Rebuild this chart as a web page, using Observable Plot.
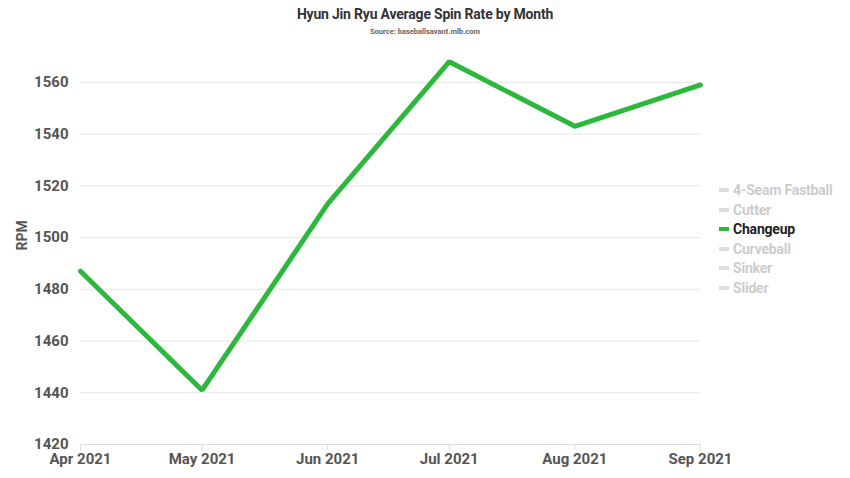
<!DOCTYPE html>
<html><head><meta charset="utf-8">
<script src="https://cdn.jsdelivr.net/npm/d3@7"></script>
<script src="https://cdn.jsdelivr.net/npm/@observablehq/plot@0.6"></script>
<style>
body{margin:0;background:#fff;font-family:Roboto,"Liberation Sans",sans-serif;}
#wrap{position:relative;width:850px;height:478px;}
#title{position:absolute;top:6px;left:0;width:850px;text-align:center;font-weight:700;font-size:14px;color:#333;letter-spacing:-0.2px;}
#sub{position:absolute;top:27px;left:0;width:850px;text-align:center;font-weight:700;font-size:7.5px;color:#666;}
#chart{position:absolute;top:40px;left:0;}
#legend{position:absolute;left:719px;top:181px;font-weight:700;font-size:14px;}
.item{height:19.5px;line-height:19.5px;color:#ccc;white-space:nowrap;letter-spacing:-0.2px;}
.sw{display:inline-block;width:10px;height:4px;background:#ddd;vertical-align:middle;margin-right:4px;margin-top:-2px;}
</style></head><body>
<div id="wrap">
<div id="title">Hyun Jin Ryu Average Spin Rate by Month</div>
<div id="sub">Source: baseballsavant.mlb.com</div>
<div id="chart"></div>
<div id="legend"></div>
</div>
<script>
const months = ["2021-04-01","2021-05-01","2021-06-01","2021-07-01","2021-08-01","2021-09-01"];
const changeup = [1487, 1441, 1513, 1568, 1543, 1559];
const pitchTypes = ["4-Seam Fastball","Cutter","Changeup","Curveball","Sinker","Slider"];
const activeType = "Changeup";
const yTicks = [1420,1440,1460,1480,1500,1520,1540,1560];

const data = months.map((m,i)=>({date:new Date(m+"T00:00:00Z"), rpm:changeup[i]}));

const chart = Plot.plot({
  width:850, height:438,
  marginLeft:80, marginRight:150, marginTop:16, marginBottom:34,
  style:{fontFamily:"Roboto, sans-serif", fontWeight:700, fontSize:"15px", color:"#555", background:"transparent"},
  x:{type:"utc", domain:[data[0].date, data[data.length-1].date], ticks:data.map(d=>d.date), tickFormat:d3.utcFormat("%b %Y"), label:null},
  y:{domain:[1420,1570], ticks:yTicks, tickFormat:"d", label:null},
  marks:[
    Plot.gridY(yTicks.slice(1),{stroke:"#e6e6e6", strokeOpacity:1}),
    Plot.ruleY([1420],{stroke:"#ddd"}),
    Plot.axisY({ticks:yTicks, tickFormat:"d", tickSize:0, tickPadding:12, fontSize:15, fill:"#555", label:null}),
    Plot.axisX({ticks:data.map(d=>d.date), tickFormat:d3.utcFormat("%b %Y"), tickSize:6, stroke:"#ddd", tickPadding:3, fontSize:15, fill:"#555", label:null}),
    Plot.text(["RPM"],{frameAnchor:"left", dx:-58, rotate:-90, fill:"#555", fontSize:14, fontWeight:700}),
    Plot.line(data,{x:"date", y:"rpm", stroke:"#2db83d", strokeWidth:5, strokeLinejoin:"miter"})
  ]
});
document.getElementById("chart").appendChild(chart);

const lg = document.getElementById("legend");
pitchTypes.forEach(t=>{
  const d = document.createElement("div");
  d.className="item";
  const s = document.createElement("span");
  s.className="sw";
  if(t===activeType){ s.style.background="#2db83d"; d.style.color="#222"; }
  d.appendChild(s);
  d.appendChild(document.createTextNode(t));
  lg.appendChild(d);
});
</script>
</body></html>
